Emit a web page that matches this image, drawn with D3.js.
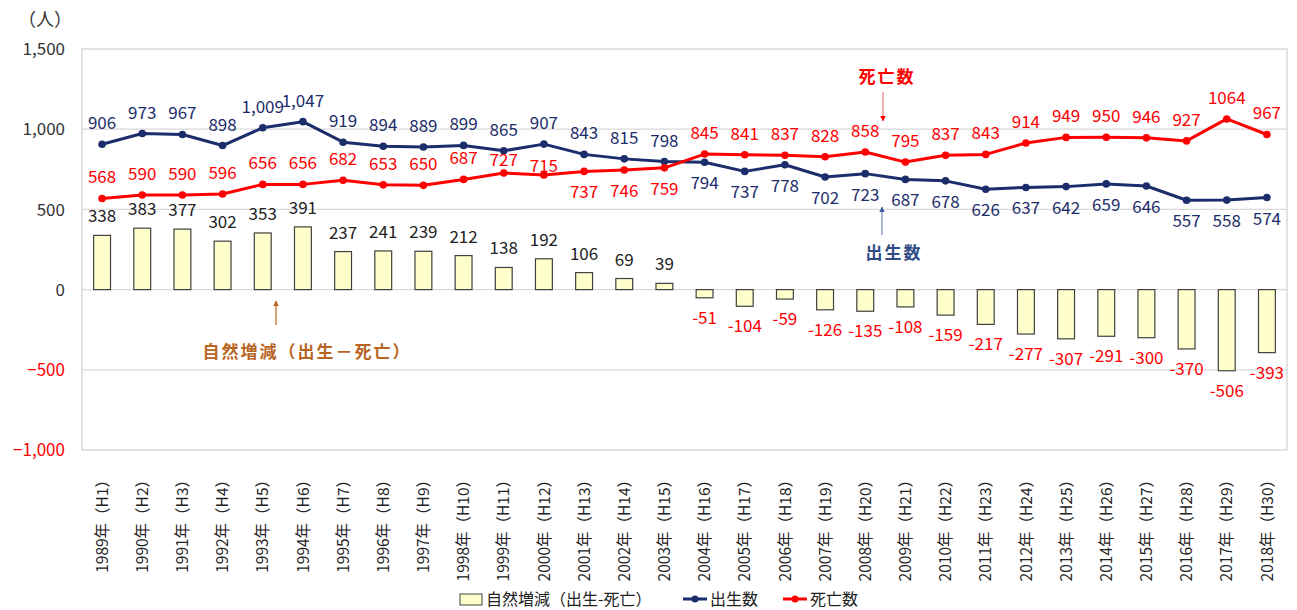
<!DOCTYPE html>
<html>
<head>
<meta charset="utf-8">
<script src="https://cdn.jsdelivr.net/npm/d3@7"></script>
<style>
  body { margin: 0; background: #fff; }
  svg text { font-family: "Noto Sans CJK JP", "Noto Sans", sans-serif; }
</style>
</head>
<body>
<svg id="chart" width="1297" height="610"></svg>
<script>
// data
const years = ['1989年（H1）','1990年（H2）','1991年（H3）','1992年（H4）','1993年（H5）','1994年（H6）',
  '1995年（H7）','1996年（H8）','1997年（H9）','1998年（H10）','1999年（H11）','2000年（H12）',
  '2001年（H13）','2002年（H14）','2003年（H15）','2004年（H16）','2005年（H17）','2006年（H18）',
  '2007年（H19）','2008年（H20）','2009年（H21）','2010年（H22）','2011年（H23）','2012年（H24）',
  '2013年（H25）','2014年（H26）','2015年（H27）','2016年（H28）','2017年（H29）','2018年（H30）'];
const births = [906,973,967,898,1009,1047,919,894,889,899,865,907,843,815,798,
  794,737,778,702,723,687,678,626,637,642,659,646,557,558,574];
const deaths = [568,590,590,596,656,656,682,653,650,687,727,715,737,746,759,
  845,841,837,828,858,795,837,843,914,949,950,946,927,1064,967];
const natural = [338,383,377,302,353,391,237,241,239,212,138,192,106,69,39,
  -51,-104,-59,-126,-135,-108,-159,-217,-277,-307,-291,-300,-370,-506,-393];
const yTicks = [1500,1000,500,0,-500,-1000];

const navy = '#1c2d6b', red = '#ff0000', brown = '#b8651f';

const svg = d3.select('#chart');
const pLeft = 82, pRight = 1287, pTop = 49, pBottom = 450;

const x = d3.scaleBand().domain(years).range([pLeft, pRight]).paddingInner(0.58).paddingOuter(0.29);
const cx = d => x(d) + x.bandwidth() / 2;
const y = d3.scaleLinear().domain([-1000, 1500]).range([pBottom, pTop]);

// grid + frame
svg.append('g').selectAll('line')
  .data(yTicks.filter(d => d < 1500 && d > -1000))
  .enter().append('line')
  .attr('x1', pLeft).attr('x2', pRight)
  .attr('y1', d => y(d)).attr('y2', d => y(d))
  .attr('stroke', '#d9d9d9').attr('stroke-width', 1.2);
svg.append('rect')
  .attr('x', pLeft).attr('y', pTop).attr('width', pRight - pLeft).attr('height', pBottom - pTop)
  .attr('fill', 'none').attr('stroke', '#d9d9d9').attr('stroke-width', 1.5);

// y axis labels
const fmt = d3.format(',');
svg.append('g').selectAll('text')
  .data(yTicks).enter().append('text')
  .attr('x', 65).attr('y', d => y(d)).attr('dy', '0.36em')
  .attr('text-anchor', 'end')
  .attr('fill', d => d < 0 ? red : '#333')
  .style('font-size', '17px')
  .text(d => fmt(d));
svg.append('text').attr('x', 45).attr('y', 26).attr('text-anchor', 'middle')
  .attr('fill', '#333').style('font-size', '18px').text('（人）');

// x labels
svg.append('g').selectAll('text')
  .data(years).enter().append('text')
  .attr('transform', d => 'translate(' + [cx(d), 472] + ')rotate(-90)')
  .attr('text-anchor', 'end').attr('dy', '0.36em')
  .attr('fill', '#222').style('font-size', '15.5px')
  .text(d => d);

// bars
svg.append('g').selectAll('rect')
  .data(natural).enter().append('rect')
  .attr('x', (d, i) => x(years[i]))
  .attr('width', x.bandwidth())
  .attr('y', d => y(Math.max(0, d)))
  .attr('height', d => Math.abs(y(d) - y(0)))
  .attr('fill', '#ffffcc').attr('stroke', '#404040').attr('stroke-width', 1.2);

svg.append('g').selectAll('text')
  .data(natural).enter().append('text')
  .attr('x', (d, i) => cx(years[i]))
  .attr('y', d => d >= 0 ? y(d) - 13 : y(d) + 26)
  .attr('text-anchor', 'middle')
  .attr('fill', d => d >= 0 ? '#222' : red)
  .style('font-size', '17px')
  .text(d => d);

// lines
function drawSeries(vals, color, below, nudge, labelFmt) {
  const line = d3.line().x((d, i) => cx(years[i])).y(d => y(d));
  svg.append('path').datum(vals)
    .attr('d', line).attr('fill', 'none')
    .attr('stroke', color).attr('stroke-width', 3).attr('stroke-linejoin', 'round');
  svg.append('g').selectAll('circle')
    .data(vals).enter().append('circle')
    .attr('cx', (d, i) => cx(years[i])).attr('cy', d => y(d))
    .attr('r', 3.8).attr('fill', color);
  svg.append('g').selectAll('text')
    .data(vals).enter().append('text')
    .attr('x', (d, i) => cx(years[i]))
    .attr('y', (d, i) => (below(i) ? y(d) + 27 : y(d) - 15) + (nudge[i] || 0))
    .attr('text-anchor', 'middle')
    .attr('fill', color)
    .style('font-size', '17px')
    .text(labelFmt);
}
drawSeries(births, navy, i => i >= 15, {}, d => fmt(d));
// 1999/2000 death labels sit closer to the line, as in the original
drawSeries(deaths, red, i => i >= 12 && i <= 14, {10: 8, 11: 12}, d => d);

// annotations
const defs = svg.append('defs');
function marker(id, color) {
  defs.append('marker').attr('id', id).attr('viewBox', '0 0 10 10')
    .attr('refX', 9).attr('refY', 5).attr('markerWidth', 5).attr('markerHeight', 5)
    .attr('orient', 'auto')
    .append('path').attr('d', 'M0 0 L10 5 L0 10 Z').attr('fill', color);
}
marker('arRed', red); marker('arNavy', '#3f5f9f'); marker('arBrown', brown);

function note(txt, tx, ty, color, ax, ay1, ay2, mk, lineColor) {
  svg.append('text').attr('x', tx).attr('y', ty).attr('dy', '0.36em')
    .attr('text-anchor', 'middle').attr('fill', color)
    .style('font-size', '17px').style('font-weight', 'bold').style('letter-spacing', '2px')
    .text(txt);
  svg.append('line').attr('x1', ax).attr('x2', ax).attr('y1', ay1).attr('y2', ay2)
    .attr('stroke', lineColor).attr('stroke-width', 1.2)
    .attr('marker-end', 'url(#' + mk + ')');
}
note('死亡数', 887, 77, red, 883, 92, 121, 'arRed', '#f07a7a');
note('出生数', 894, 253, '#2f4a85', 882, 235, 207, 'arNavy', '#7088b8');
note('自然増減（出生－死亡）', 307, 352, brown, 276, 325, 301, 'arBrown', brown);

// legend
const lg = svg.append('g').attr('transform', 'translate(0,599)');
lg.append('rect').attr('x', 460).attr('y', -5).attr('width', 22).attr('height', 11)
  .attr('fill', '#ffffcc').attr('stroke', '#404040');
lg.append('text').attr('x', 486).attr('y', 0).attr('dy', '0.36em')
  .attr('fill', '#222').style('font-size', '16px').text('自然増減（出生-死亡）');
[[navy, 683, '出生数'], [red, 783, '死亡数']].forEach(function(l) {
  lg.append('line').attr('x1', l[1]).attr('x2', l[1] + 24).attr('y1', 0).attr('y2', 0)
    .attr('stroke', l[0]).attr('stroke-width', 3);
  lg.append('circle').attr('cx', l[1] + 12).attr('cy', 0).attr('r', 3.5).attr('fill', l[0]);
  lg.append('text').attr('x', l[1] + 27).attr('y', 0).attr('dy', '0.36em')
    .attr('fill', '#222').style('font-size', '16px').text(l[2]);
});
</script>
</body>
</html>
